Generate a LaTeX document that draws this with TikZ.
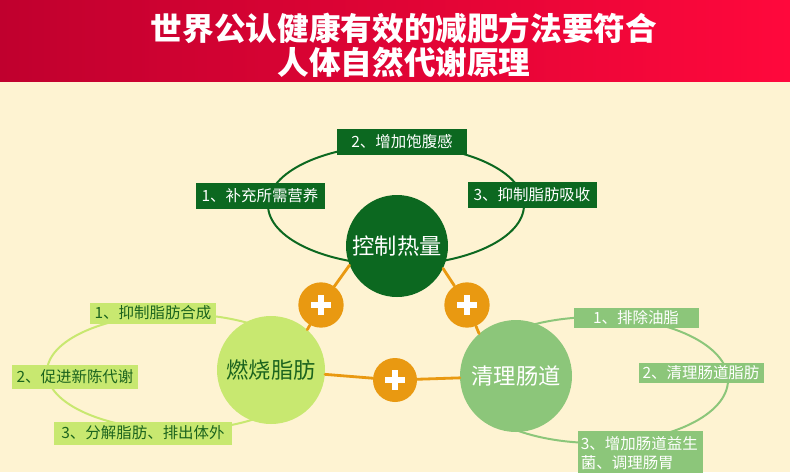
\documentclass[tikz,border=0pt]{standalone}
\usepackage{fontspec}
\newfontfamily\cjk{Noto Sans CJK SC}
\usepackage{tikz}
\usetikzlibrary{positioning}

\definecolor{cream}{RGB}{254,243,210}
\definecolor{redL}{RGB}{192,0,46}
\definecolor{redR}{RGB}{255,8,60}
\definecolor{dkgreen}{RGB}{12,104,32}
\definecolor{ltgreen}{RGB}{200,232,112}
\definecolor{mdgreen}{RGB}{140,198,122}
\definecolor{plusorange}{RGB}{233,153,17}
\definecolor{txtgreen}{RGB}{28,100,30}

\begin{document}
\begin{tikzpicture}[x=0.03cm,y=-0.03cm,line cap=round,line join=round,
  boxfont/.style={font=\cjk\fontsize{13.2}{15.5}\selectfont},
  darkbox/.style={boxfont,fill=dkgreen,text=white,inner sep=0pt,minimum height=0.78cm},
  lightbox/.style={boxfont,fill=ltgreen,text=txtgreen,inner sep=0pt},
  midbox/.style={boxfont,fill=mdgreen,text=white,inner sep=0pt},
  bigdot/.style={circle,inner sep=0pt,font=\cjk\fontsize{19}{19}\selectfont},
  plusdot/.style={circle,fill=plusorange,minimum size=1.36cm,inner sep=0pt,
    path picture={
      \fill[white] ([xshift=-0.3cm,yshift=-0.09cm]path picture bounding box.center) rectangle ++(0.6cm,0.18cm);
      \fill[white] ([xshift=-0.09cm,yshift=-0.3cm]path picture bounding box.center) rectangle ++(0.18cm,0.6cm);}},
  orangeline/.style={plusorange,line width=2.4pt},
  ring/.style={line width=1.7pt}]
\clip (0,0) rectangle (790,472);
\fill[cream] (0,0) rectangle (790,472);
\shade[left color=redL,right color=redR] (0,0) rectangle (790,81);
\node[text=white,font=\cjk\bfseries\fontsize{27}{27}\selectfont] (title1) at (404,28) {世界公认健康有效的减肥方法要符合};
\node[text=white,font=\cjk\bfseries\fontsize{27}{27}\selectfont] (title2) at (404,62) {人体自然代谢原理};

% rings
\draw[ring,dkgreen] (396,205) ellipse (128 and 60);
\draw[ring,ltgreen] (178,372) ellipse (131 and 58);
\draw[ring,mdgreen] (596,380) ellipse (132 and 63);

% main circles
\node[bigdot,fill=dkgreen,text=white,minimum size=3.06cm] (ctrl) at (397,246) {控制热量};
\node[bigdot,fill=ltgreen,text=txtgreen,minimum size=3.24cm] (burn) at (271,370) {燃烧脂肪};
\node[bigdot,fill=mdgreen,text=white,minimum size=3.36cm] (clean) at (516,376) {清理肠道};

\node[plusdot] (plusL) at (321,305) {};
\node[plusdot] (plusR) at (467,305) {};
\node[plusdot,minimum size=1.32cm] (plusM) at (395,380) {};

\draw[orangeline] (ctrl.202) -- (plusL) -- (burn.48);
\draw[orangeline] (ctrl.-26) -- (plusR) -- (clean.131);
\draw[orangeline] (burn) -- (plusM) -- (clean);

% control boxes
\node[darkbox,minimum width=3.9cm] (ctrl2) at (402,142) {2、增加饱腹感};
\node[darkbox,minimum width=3.87cm] (ctrl1) at (260,196) {1、补充所需营养};
\node[darkbox,minimum width=3.87cm] (ctrl3) at (532,195) {3、抑制脂肪吸收};

% burn boxes
\node[lightbox,minimum width=3.75cm,minimum height=0.63cm] (burn1) at (153,313) {1、抑制脂肪合成};
\node[lightbox,minimum width=3.78cm,minimum height=0.72cm] (burn2) at (75,377) {2、促进新陈代谢};
\node[lightbox,minimum width=5.31cm,minimum height=0.69cm] (burn3) at (143,433) {3、分解脂肪、排出体外};

% clean boxes
\node[midbox,minimum width=3.75cm,minimum height=0.6cm] (clean1) at (636,318) {1、排除油脂};
\node[midbox,minimum width=3.75cm,minimum height=0.6cm] (clean2) at (701,373) {2、清理肠道脂肪};
\node[midbox,font=\cjk\fontsize{13.2}{16.5}\selectfont,anchor=north west,text width=3.57cm,align=left,inner xsep=0.08cm,inner ysep=0.15cm,text depth=1cm] (clean3) at (578,431) {3、增加肠道益生\\菌、调理肠胃};
\end{tikzpicture}
\end{document}
